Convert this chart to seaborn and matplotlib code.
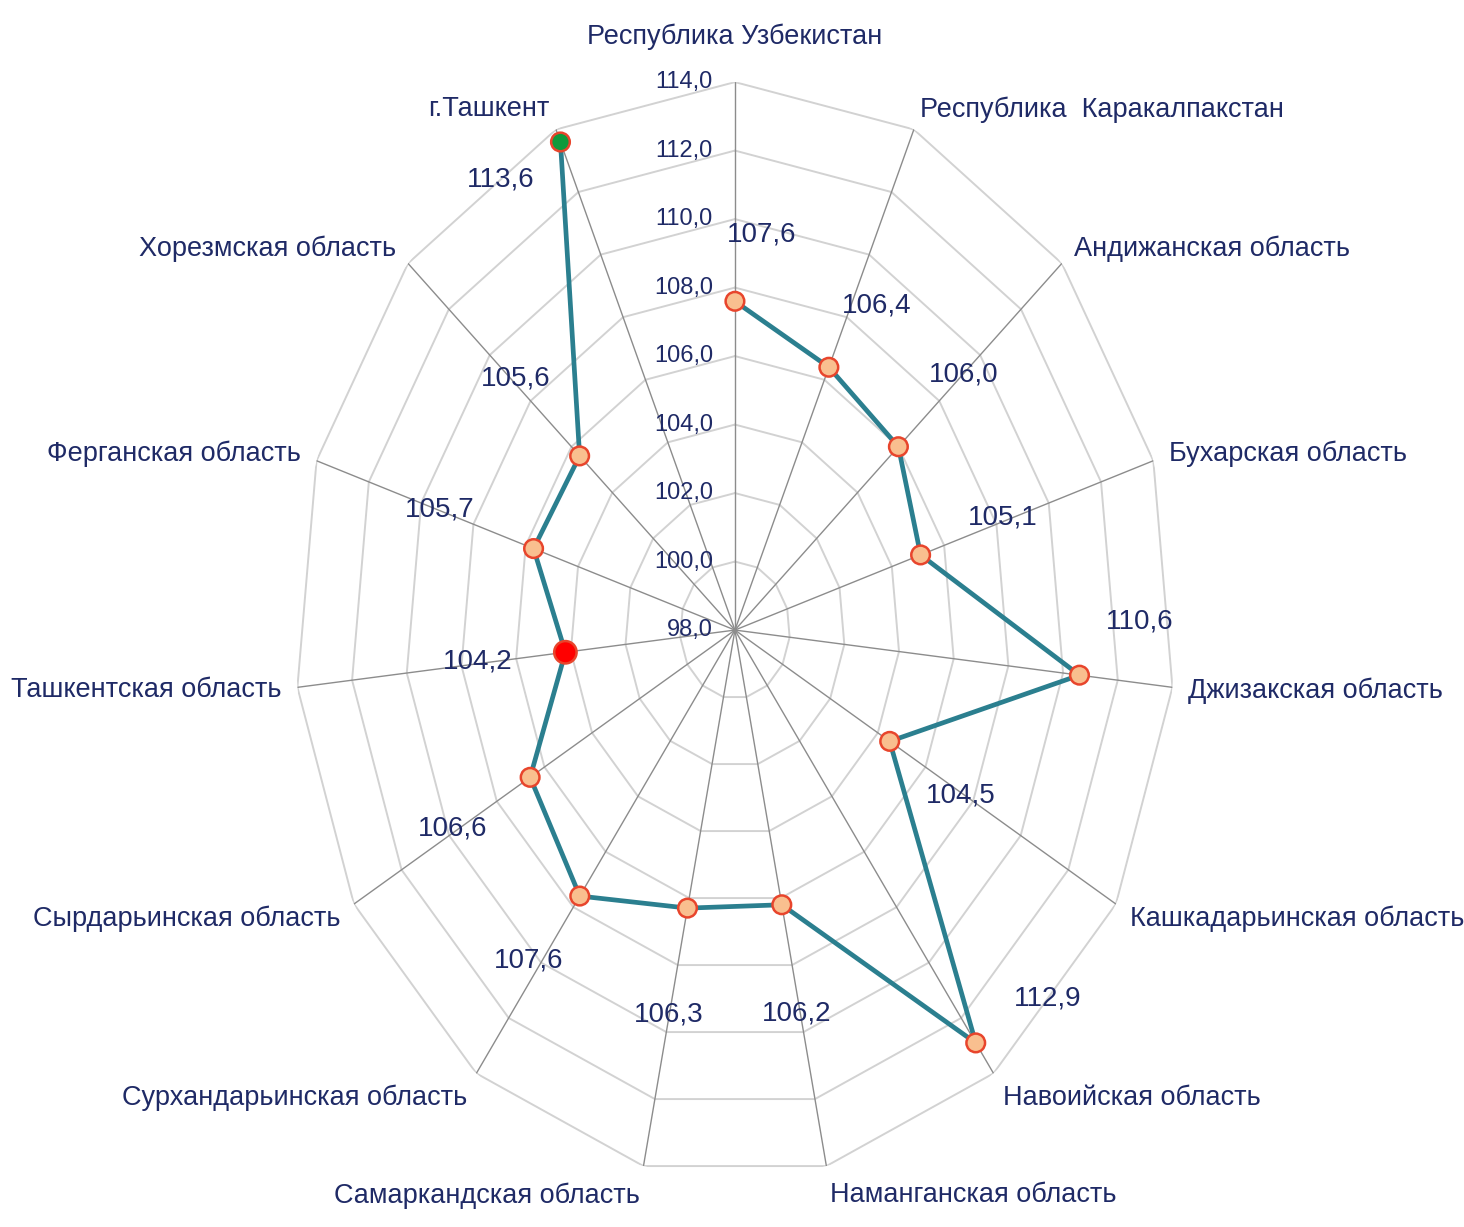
import numpy as np
import pandas as pd
import matplotlib
matplotlib.use('Agg')
import matplotlib.pyplot as plt
import seaborn as sns

# regions, clockwise from the top
regions = ['Республика Узбекистан', 'Республика  Каракалпакстан', 'Андижанская область',
           'Бухарская область', 'Джизакская область', 'Кашкадарьинская область',
           'Навоийская область', 'Наманганская область', 'Самаркандская область',
           'Сурхандарьинская область', 'Сырдарьинская область', 'Ташкентская область',
           'Ферганская область', 'Хорезмская область', 'г.Ташкент']
values = [107.6, 106.4, 106.0, 105.1, 110.6, 104.5, 112.9, 106.2, 106.3,
          107.6, 106.6, 104.2, 105.7, 105.6, 113.6]
r_ticks = [98, 100, 102, 104, 106, 108, 110, 112, 114]

# pixel offsets of the value labels from their markers (layout only)
lab_dx = [27, 48, 65, 82, 60, 71, 72, 15, -19, -51, -78, -88, -94, -64, -60]
lab_dy = [-67, -62, -72, -37, -54, 54, -44, 109, 106, 64, 51, 9, -39, -77, 38]

navy = '#1f2a66'
teal = '#2b7f8f'

sns.set_theme(style='white')
plt.rcParams['font.family'] = ['Liberation Sans Narrow', 'Liberation Sans', 'DejaVu Sans']

n = len(regions)
angles = np.arange(n) * 2 * np.pi / n
df = pd.DataFrame({'region': regions, 'value': values, 'theta': angles})
closed = pd.concat([df, df.iloc[[0]]], ignore_index=True)

fig = plt.figure(figsize=(14.64, 12.27), dpi=100)
ax = fig.add_axes([0.2015, 0.0399, 0.601, 0.8932], projection='polar')
ax.set_aspect('auto')
ax.set_theta_zero_location('N')
ax.set_theta_direction(-1)
ax.set_ylim(r_ticks[0], r_ticks[-1])
ax.grid(False)
ax.spines['polar'].set_visible(False)
ax.set_xticks([])
ax.set_yticks([])
ax.patch.set_alpha(0)

# polygon rings
ring_t = np.append(angles, angles[0])
for lv in r_ticks[1:]:
    ax.plot(ring_t, [lv] * len(ring_t), color='#d2d2d2', lw=1.4, zorder=1)
# spokes
for a in angles:
    ax.plot([a, a], [r_ticks[0], r_ticks[-1]], color='#8c8c8c', lw=1.0, zorder=2)

# radial tick labels along the top spoke
for lv in r_ticks:
    ax.annotate(f'{lv:.1f}'.replace('.', ','), xy=(0, lv), xytext=(-22, 0),
                textcoords='offset pixels', ha='right', va='center',
                fontsize=17, color=navy, family=['Liberation Sans', 'DejaVu Sans'])

# data polygon
sns.lineplot(data=closed, x='theta', y='value', sort=False, ax=ax,
             color=teal, lw=3.4, zorder=3)
colors = ['#f9bf8f'] * n
colors[regions.index('г.Ташкент')] = '#0f9a3c'
colors[regions.index('Ташкентская область')] = '#ff0000'
sizes = [180] * n
sizes[regions.index('Ташкентская область')] = 260
ax.scatter(df['theta'], df['value'], s=sizes, c=colors, edgecolors='#e8452c',
           linewidths=1.8, zorder=4)

# value labels
for a, v, dx, dy in zip(angles, values, lab_dx, lab_dy):
    ax.annotate(f'{v:.1f}'.replace('.', ','), xy=(a, v), xytext=(dx, -dy),
                textcoords='offset pixels', ha='center', va='center',
                fontsize=20, color=navy)

# category labels at the outer ring
for a, name in zip(angles, regions):
    s, c = np.sin(a), np.cos(a)
    if abs(s) < 0.05:
        ha = 'center'
        dx, dy = 0, 45
    else:
        ha = 'left' if s > 0 else 'right'
        dx = 16 * s
        dy = 22 * c if c > 0 else 30 * c
    ax.annotate(name, xy=(a, r_ticks[-1]), xytext=(dx, dy),
                textcoords='offset pixels', ha=ha, va='center',
                fontsize=19.5, color=navy, annotation_clip=False)

fig.savefig('out.png', dpi=100, facecolor='white')
